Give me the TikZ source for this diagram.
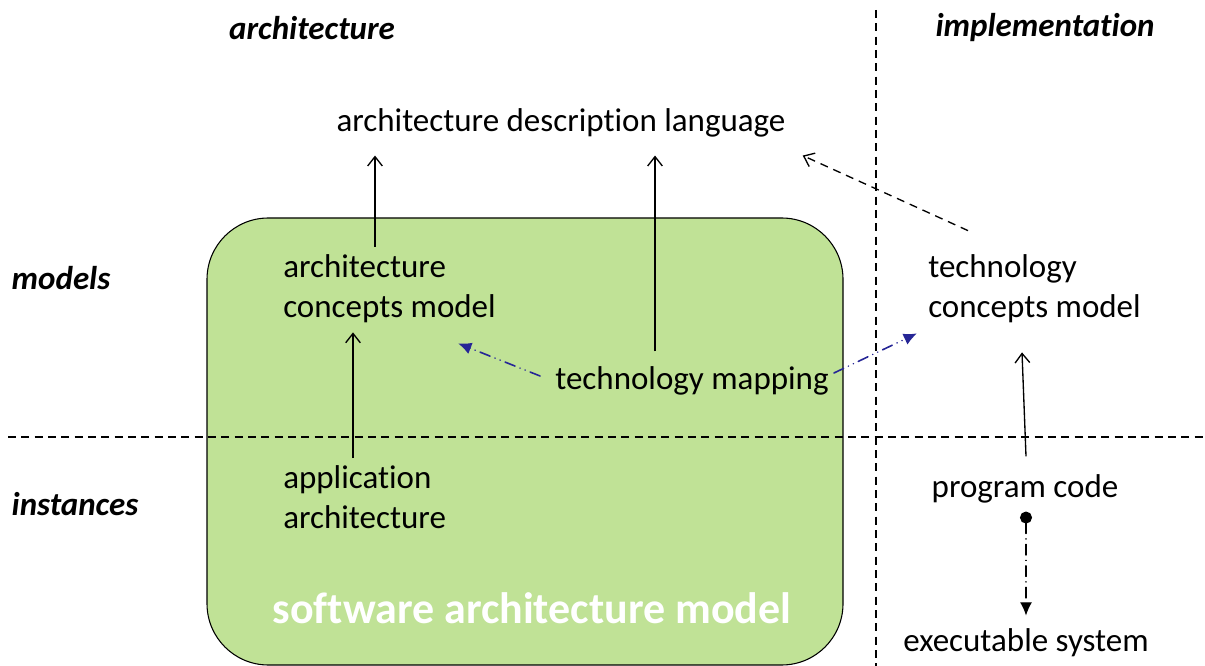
\documentclass[tikz,border=0pt]{standalone}
\usepackage{fontspec}
\setmainfont{Carlito}[Ligatures=NoCommon]
\usetikzlibrary{arrows.meta,calc}
\definecolor{boxgreen}{RGB}{192,226,150}
\definecolor{mapblue}{RGB}{38,38,150}
\begin{document}
\begin{tikzpicture}[x=0.75pt,y=-0.75pt,
  font=\fontsize{24.75}{30}\selectfont,
  txt/.style={inner sep=0pt,align=left},
  hdr/.style={inner sep=0pt,font=\fontsize{24.75}{30}\selectfont\bfseries\itshape},
  arr/.style={line width=1pt,-{Straight Barb[length=7pt,width=11pt,line width=1pt]}},
  sep/.style={line width=1.2pt,dash pattern=on 6pt off 4pt},
  dasharr/.style={line width=1pt,dash pattern=on 6pt off 4.5pt,-{Straight Barb[length=7pt,width=11pt,line width=1pt]}},
  maparr/.style={mapblue,line width=1.2pt,line cap=round,dash pattern=on 8pt off 4pt on 0.1pt off 4pt on 0.1pt off 4pt,-{Latex[length=10pt,width=9pt]}},
  runarr/.style={line width=1pt,line cap=round,dash pattern=on 8pt off 4pt on 0.1pt off 4pt,{Circle[length=9pt]}-{Latex[length=10pt,width=9pt]}}
]
\useasboundingbox (0,0) rectangle (1205,666);
% model box
\draw[fill=boxgreen,draw=black,line width=0.8pt,rounded corners=46pt] (207,218) rectangle (843,665);
% separators
\draw[sep] (876,10) -- (876,666);
\draw[sep] (8,437) -- (1203,437);
% headers
\node[hdr] (harch) at (312,28) {architecture};
\node[hdr] (himpl) at (1045,28) {implementation};
\node[hdr] (hmod) at (61,278) {models};
\node[hdr] (hinst) at (75,504) {instances};
% nodes
\node[txt] (adl) at (561,123) {architecture description language};
\node[txt,anchor=west] (acm) at (283,289) {architecture\\concepts model};
\node[txt] (tm) at (692,381) {technology mapping};
\node[txt,anchor=west] (tcm) at (928,289) {technology\\concepts model};
\node[txt,anchor=west] (aa) at (283,497) {application\\architecture};
\node[txt] (pc) at (1025,489) {program code};
\node[txt] (es) at (1026,643) {executable system};
\node[inner sep=0pt,text=white,font=\fontsize{33}{40}\selectfont\bfseries] (sam) at (532,608) {software architecture model};
% connectors
\draw[arr] ($(acm.north west -| 375,0)+(0,-8)$) -- ($(adl.south -| 375,0)+(0,18)$);
\draw[arr] ($(tm.north -| 655,0)+(0,-15)$) -- ($(adl.south -| 655,0)+(0,18)$);
\draw[arr] ($(aa.north west -| 353,0)+(0,-7)$) -- ($(acm.south west -| 353,0)+(0,9)$);
\draw[dasharr] ($(tcm.north west)+(40,-24)$) -- ($(adl.south east)+(17,18)$);
\draw[maparr] ($(tm.west)+(-15,-5)$) -- ($(acm.south east)+(-38,20)$);
\draw[maparr] ($(tm.east)+(5,-8)$) -- ($(tcm.south west)+(-11,10)$);
\draw[arr] ($(pc.north)+(1,-18)$) -- ($(tcm.south west)+(94,29)$);
\draw[runarr] ($(pc.south)+(1,8)$) -- ($(es.north)+(0,-13)$);
\end{tikzpicture}
\end{document}
